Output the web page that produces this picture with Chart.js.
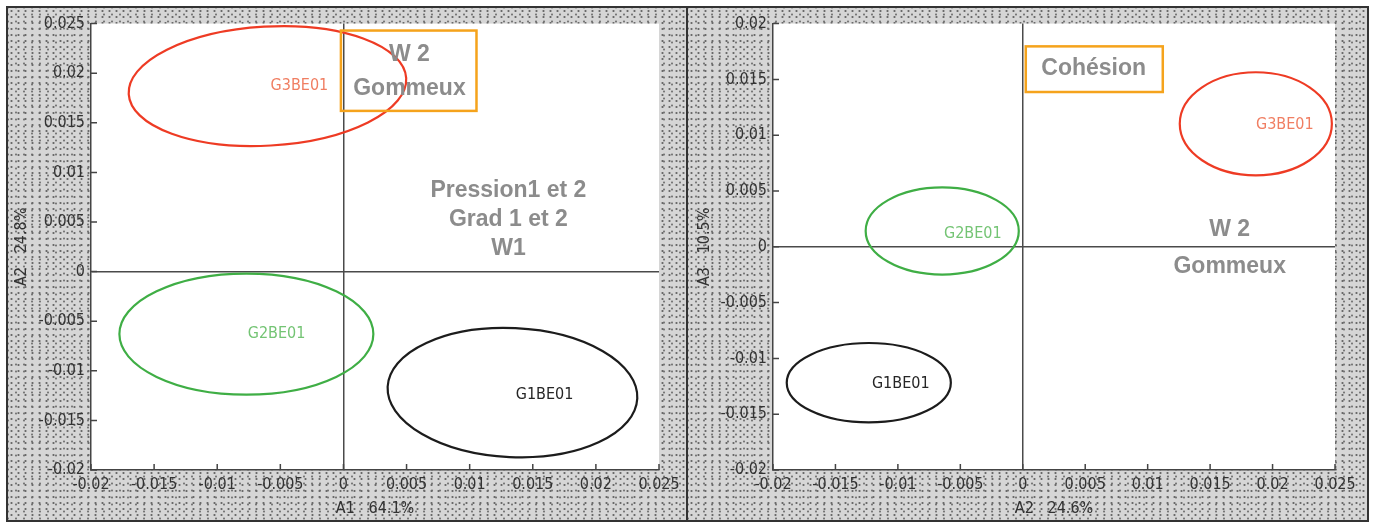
<!DOCTYPE html>
<html>
<head>
<meta charset="utf-8">
<script src="https://cdn.jsdelivr.net/npm/chart.js@4.4.1/dist/chart.umd.min.js"></script>
<style>
  body { margin: 0; background: #fff; width: 1373px; height: 524px; overflow: hidden; position: relative; }
  .frame { position: absolute; left: 6px; top: 6px; width: 1363px; height: 516px; border: 2px solid #333; box-sizing: border-box; }
  .panel {
    position: absolute; top: 8px; height: 512px;
    background-color: #d6d6d6;
    background-image:
      radial-gradient(circle, #6a6a6a 0.85px, transparent 1.3px),
      radial-gradient(circle, #777 0.8px, transparent 1.3px);
    background-size: 7px 6px, 8px 7px;
    background-position: 0 0, 4px 3px;
  }
  #p1 { left: 8px; width: 678px; }
  #p2 { left: 688px; width: 679px; }
  .divider { position: absolute; left: 686px; top: 8px; width: 2px; height: 512px; background: #333; }
  canvas { display: block; }
</style>
</head>
<body>
<div class="frame"></div>
<div class="panel" id="p1"><canvas id="c1" width="678" height="512"></canvas></div>
<div class="divider"></div>
<div class="panel" id="p2"><canvas id="c2" width="679" height="512"></canvas></div>
<script>
// tick values and labels
const leftXTicks = [-0.02, -0.015, -0.01, -0.005, 0, 0.005, 0.01, 0.015, 0.02, 0.025];
const leftXLabels = ['-0.02', '-0.015', '-0.01', '-0.005', '0', '0.005', '0.01', '0.015', '0.02', '0.025'];
const leftYTicks = [-0.02, -0.015, -0.01, -0.005, 0, 0.005, 0.01, 0.015, 0.02, 0.025];
const leftYLabels = ['-0.02', '-0.015', '-0.01', '-0.005', '0', '0.005', '0.01', '0.015', '0.02', '0.025'];
const rightXTicks = [-0.02, -0.015, -0.01, -0.005, 0, 0.005, 0.01, 0.015, 0.02, 0.025];
const rightXLabels = ['-0.02', '-0.015', '-0.01', '-0.005', '0', '0.005', '0.01', '0.015', '0.02', '0.025'];
const rightYTicks = [-0.02, -0.015, -0.01, -0.005, 0, 0.005, 0.01, 0.015, 0.02];
const rightYLabels = ['-0.02', '-0.015', '-0.01', '-0.005', '0', '0.005', '0.01', '0.015', '0.02'];

// groups
const groups = ['G1BE01', 'G2BE01', 'G3BE01'];

// plane A1 x A2 : confidence ellipses
const leftCx = [0.01339, -0.00769, -0.00602];
const leftCy = [-0.0122, -0.0063, 0.0187];
const leftRx = [0.0099, 0.01006, 0.01101];
const leftRy = [0.0065, 0.0061, 0.0060];
const leftTilt = [2.7, 0, -3.3];
const leftLabelX = [0.01593, -0.0053, -0.00349];
const leftLabelY = [-0.0124, -0.0063, 0.0187];

// plane A2 x A3
const rightCx = [-0.01233, -0.00645, 0.01866];
const rightCy = [-0.01218, 0.00142, 0.01102];
const rightRx = [0.00657, 0.00613, 0.00609];
const rightRy = [0.00356, 0.00391, 0.00462];
const rightTilt = [0, 0, 0];
const rightLabelX = [-0.00977, -0.0040, 0.02098];
const rightLabelY = [-0.01227, 0.00116, 0.01093];

// annotations
const leftNoteText = ['W 2', 'Gommeux', 'Pression1 et 2', 'Grad 1 et 2', 'W1'];
const leftNoteX = [0.00523, 0.00523, 0.01307, 0.01307, 0.01307];
const leftNoteY = [0.0219, 0.0184, 0.0082, 0.0052, 0.0023];
const leftBox = [-0.0002, 0.0243, 0.01054, 0.0162];
const rightNoteText = ['Cohésion', 'W 2', 'Gommeux'];
const rightNoteX = [0.00568, 0.01657, 0.01657];
const rightNoteY = [0.0160, 0.00151, -0.00178];
const rightBox = [0.00024, 0.01796, 0.01121, 0.01387];

const lineColors = ['#1c1c1c', '#3fae45', '#ee3b24'];
const textColors = ['#262626', '#74c474', '#f07e62'];
const narrow = '"DejaVu Sans Condensed", "Liberation Sans Narrow", sans-serif';

const whiteArea = {
    id: 'whiteArea',
    beforeDraw(chart) {
        const { ctx, chartArea: a } = chart;
        ctx.save();
        ctx.fillStyle = '#fff';
        ctx.fillRect(a.left, a.top, a.right - a.left, a.bottom - a.top);
        ctx.restore();
    }
};

// inward tick marks
const innerTicks = {
    id: 'innerTicks',
    afterDraw(chart) {
        const { ctx, chartArea: a, scales: { x, y } } = chart;
        ctx.save();
        ctx.strokeStyle = '#444';
        ctx.lineWidth = 1.5;
        ctx.beginPath();
        x.ticks.forEach(t => {
            const px = x.getPixelForValue(t.value);
            ctx.moveTo(px, a.bottom);
            ctx.lineTo(px, a.bottom - 6);
        });
        y.ticks.forEach(t => {
            const py = y.getPixelForValue(t.value);
            ctx.moveTo(a.left, py);
            ctx.lineTo(a.left + 6, py);
        });
        ctx.stroke();
        ctx.restore();
    }
};

function ellipsePlugin(cx, cy, rx, ry, tilt, lx, ly) {
    return {
        id: 'ellipses',
        afterDatasetsDraw(chart) {
            const { ctx, scales: { x, y } } = chart;
            ctx.save();
            groups.forEach((g, i) => {
                const px = x.getPixelForValue(cx[i]);
                const py = y.getPixelForValue(cy[i]);
                const rpx = Math.abs(x.getPixelForValue(cx[i] + rx[i]) - px);
                const rpy = Math.abs(y.getPixelForValue(cy[i] + ry[i]) - py);
                ctx.beginPath();
                ctx.ellipse(px, py, rpx, rpy, tilt[i] * Math.PI / 180, 0, Math.PI * 2);
                ctx.strokeStyle = lineColors[i];
                ctx.lineWidth = 2.2;
                ctx.stroke();
                ctx.font = '16px ' + narrow;
                ctx.fillStyle = textColors[i];
                ctx.textAlign = 'center';
                ctx.textBaseline = 'middle';
                ctx.fillText(g, x.getPixelForValue(lx[i]), y.getPixelForValue(ly[i]));
            });
            ctx.restore();
        }
    };
}

function notesPlugin(texts, nx, ny, box) {
    return {
        id: 'notes',
        afterDraw(chart) {
            const { ctx, scales: { x, y } } = chart;
            ctx.save();
            ctx.strokeStyle = '#f5a31c';
            ctx.lineWidth = 2.5;
            const x1 = x.getPixelForValue(box[0]), y1 = y.getPixelForValue(box[1]);
            const x2 = x.getPixelForValue(box[2]), y2 = y.getPixelForValue(box[3]);
            ctx.strokeRect(x1, y1, x2 - x1, y2 - y1);
            ctx.font = 'bold 23px "Liberation Sans", Arial, sans-serif';
            ctx.fillStyle = '#8c8c8c';
            ctx.textAlign = 'center';
            ctx.textBaseline = 'middle';
            texts.forEach((t, i) => {
                ctx.fillText(t, x.getPixelForValue(nx[i]), y.getPixelForValue(ny[i]));
            });
            ctx.restore();
        }
    };
}

function axisOptions(vals, labels, opts) {
    return {
        type: 'linear',
        min: vals[0],
        max: vals[vals.length - 1],
        afterBuildTicks: s => { s.ticks = vals.map(v => ({ value: v })); },
        afterFit: opts.fit,
        ticks: {
            color: '#333',
            font: { family: narrow, size: 16 },
            padding: opts.pad,
            maxRotation: 0,
            autoSkip: false,
            callback: (v, i) => labels[i]
        },
        grid: {
            drawTicks: false,
            lineWidth: 1.5,
            color: c => (c.tick && c.tick.value === 0) ? '#4a4a4a' : 'rgba(0,0,0,0)'
        },
        border: { display: true, color: '#444', width: 1.5 },
        title: {
            display: true,
            text: opts.title,
            color: '#333',
            font: { family: narrow, size: 16 },
            padding: opts.titlePad
        }
    };
}

function makeChart(id, p) {
    const cv = document.getElementById(id);
    const W = cv.width, H = cv.height;
    return new Chart(cv, {
        type: 'scatter',
        data: {
            datasets: [{
                data: p.cx.map((v, i) => ({ x: v, y: p.cy[i] })),
                pointRadius: 0
            }]
        },
        options: {
            responsive: false,
            animation: false,
            layout: { padding: { left: 0, top: p.area.top, right: W - p.area.right, bottom: 0 } },
            plugins: { legend: { display: false }, tooltip: { enabled: false } },
            scales: {
                x: axisOptions(p.xv, p.xl, {
                    fit: s => { s.height = H - p.area.bottom; },
                    pad: 5, title: p.xTitle, titlePad: { top: 0, bottom: 2 }
                }),
                y: axisOptions(p.yv, p.yl, {
                    fit: s => { s.width = p.area.left; },
                    pad: 6, title: p.yTitle, titlePad: { top: p.yTitlePad, bottom: 0 }
                })
            }
        },
        plugins: [whiteArea, innerTicks,
            ellipsePlugin(p.cx, p.cy, p.rx, p.ry, p.tilt, p.lx, p.ly),
            notesPlugin(p.notes, p.nx, p.ny, p.box)]
    });
}

makeChart('c1', {
    area: { left: 83, right: 651, top: 12, bottom: 462 },
    xv: leftXTicks, xl: leftXLabels, yv: leftYTicks, yl: leftYLabels,
    xTitle: 'A1   64.1%', yTitle: 'A2   24.8%', yTitlePad: 4,
    cx: leftCx, cy: leftCy, rx: leftRx, ry: leftRy, tilt: leftTilt, lx: leftLabelX, ly: leftLabelY,
    notes: leftNoteText, nx: leftNoteX, ny: leftNoteY, box: leftBox
});

makeChart('c2', {
    area: { left: 85, right: 647, top: 12, bottom: 462 },
    xv: rightXTicks, xl: rightXLabels, yv: rightYTicks, yl: rightYLabels,
    xTitle: 'A2   24.6%', yTitle: 'A3   10.5%', yTitlePad: 7,
    cx: rightCx, cy: rightCy, rx: rightRx, ry: rightRy, tilt: rightTilt, lx: rightLabelX, ly: rightLabelY,
    notes: rightNoteText, nx: rightNoteX, ny: rightNoteY, box: rightBox
});
</script>
</body>
</html>
